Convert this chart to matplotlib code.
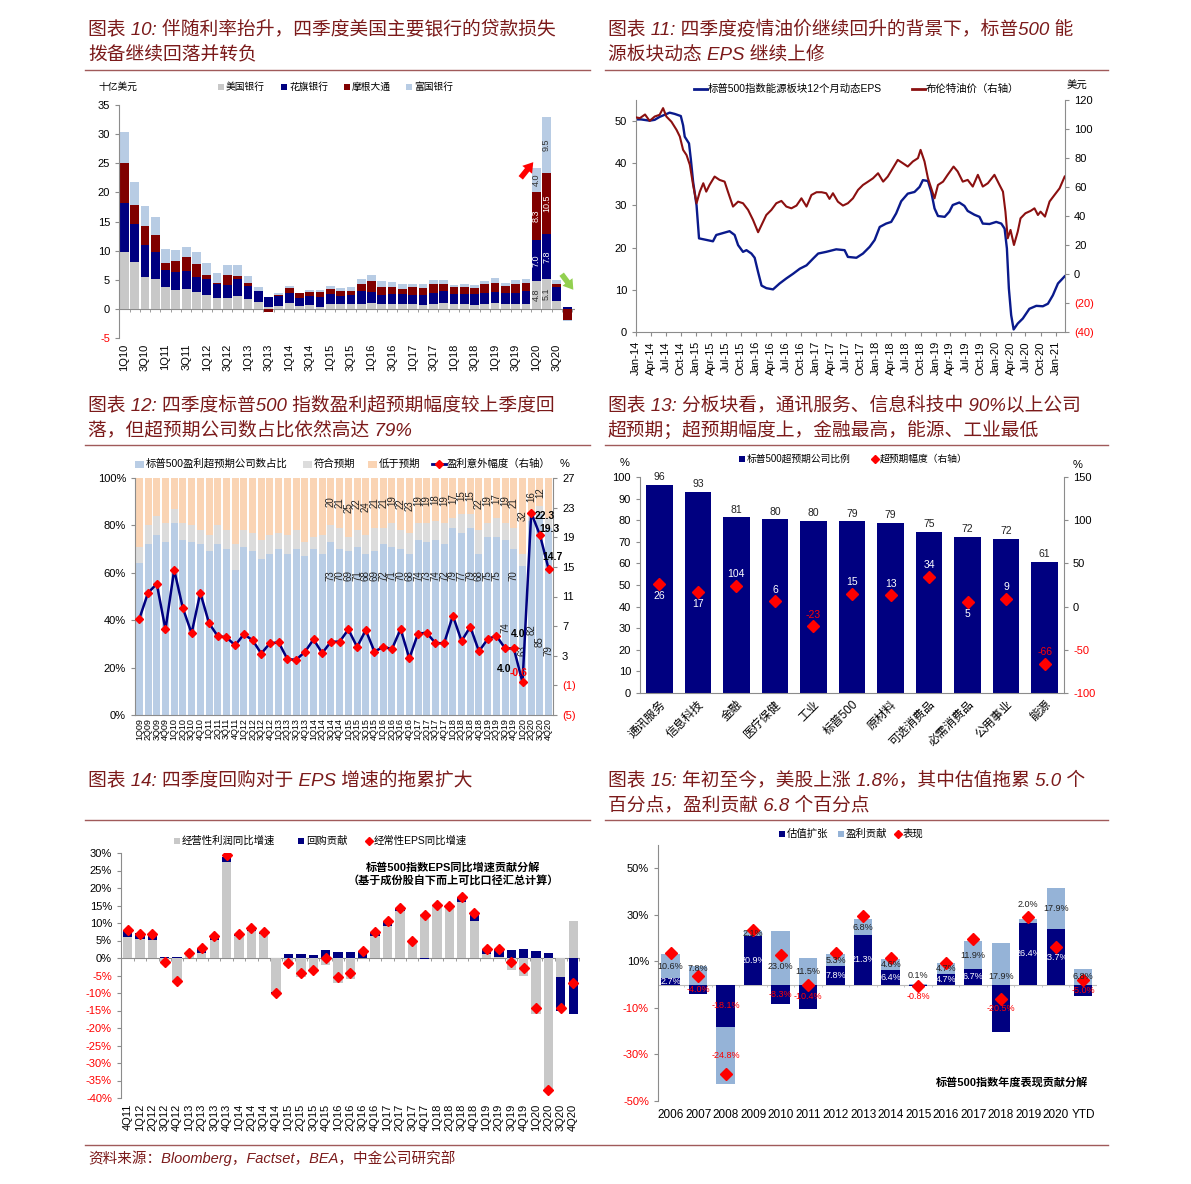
import matplotlib
matplotlib.use('Agg')
import matplotlib.pyplot as plt
import numpy as np
import pandas as pd
from matplotlib.patches import Rectangle, FancyArrowPatch
from matplotlib.lines import Line2D

plt.rcParams['font.family'] = ['Liberation Sans', 'Noto Sans CJK SC']
plt.rcParams['axes.unicode_minus'] = False
plt.rcParams['font.size'] = 8

# ------------------------- DATA -------------------------
# Chart 10: US bank loan loss provisions (USD bn)
q10 = [f"{q}Q{y:02d}" for y in range(10, 21) for q in range(1, 5)]
bofa = [9.8, 8.1, 5.4, 5.1, 3.8, 3.2, 3.4, 2.9, 2.4, 1.8, 1.8, 2.2, 1.7, 1.2, 0.3, 0.45, 1.0, 0.45, 0.7, 0.3,
        0.8, 0.8, 0.8, 0.8, 1.0, 0.9, 0.8, 0.8, 0.8, 0.7, 0.8, 1.0, 0.8, 0.8, 0.7, 0.85, 1.0, 0.85, 0.8, 0.9,
        4.8, 5.1, 1.4, 0.05]
citi = [8.3, 6.4, 5.6, 4.6, 2.9, 3.2, 3.1, 2.6, 2.7, 2.4, 2.3, 2.9, 2.2, 1.8, 1.8, 1.8, 1.7, 1.45, 1.5, 1.8,
        1.7, 1.4, 1.6, 2.3, 1.9, 1.4, 1.7, 1.7, 1.6, 1.6, 1.9, 2.0, 1.8, 1.8, 1.9, 1.85, 1.9, 1.95, 2.0, 2.1,
        7.0, 7.8, 2.3, 0.3]
jpm = [6.9, 3.3, 3.2, 3.0, 1.1, 1.8, 2.4, 2.2, 0.8, 0.3, 1.8, 0.6, 0.6, 0.05, -0.6, 0.2, 0.9, 0.8, 0.7, 0.8,
       0.9, 0.9, 0.7, 1.2, 1.8, 1.4, 1.3, 0.9, 1.4, 1.3, 1.5, 1.3, 1.2, 1.2, 1.0, 1.6, 1.6, 1.2, 1.5, 1.5,
       8.3, 10.5, 0.5, -1.9]
wfc = [5.4, 4.0, 3.5, 3.0, 2.4, 1.9, 1.8, 2.1, 2.0, 1.7, 1.6, 1.8, 1.2, 0.7, 0.0, 0.2, 0.3, 0.1, 0.4, 0.4,
       0.6, 0.4, 0.7, 0.9, 1.1, 1.0, 0.8, 0.8, 0.5, 0.6, 0.8, 0.7, 0.3, 0.5, 0.5, 0.5, 0.8, 0.5, 0.7, 0.7,
       4.0, 9.5, 0.8, -0.2]
banks10 = ['美国银行', '花旗银行', '摩根大通', '富国银行']

# Chart 11: energy sector 12m forward EPS and Brent
eps_dates = ['2014-01-01', '2014-02-01', '2014-03-25', '2014-04-25', '2014-05-25', '2014-06-25', '2014-07-25',
             '2014-08-25', '2014-10-01', '2014-10-15', '2014-10-25', '2014-11-20', '2014-12-01', '2014-12-15',
             '2015-01-05', '2015-01-20', '2015-04-15', '2015-05-05', '2015-07-25', '2015-08-25', '2015-09-15',
             '2015-10-15', '2015-11-05', '2015-12-05', '2015-12-25', '2016-01-15', '2016-02-05', '2016-03-05',
             '2016-04-15', '2016-05-25', '2016-07-05', '2016-08-15', '2016-09-25', '2016-11-05', '2016-12-15',
             '2017-01-15', '2017-03-05', '2017-05-05', '2017-06-25', '2017-07-15', '2017-09-05', '2017-10-15',
             '2017-11-25', '2017-12-25', '2018-01-25', '2018-03-05', '2018-04-05', '2018-05-05', '2018-06-05',
             '2018-07-15', '2018-08-25', '2018-09-25', '2018-10-15', '2018-11-15', '2018-12-05', '2018-12-25',
             '2019-01-15', '2019-02-25', '2019-03-25', '2019-04-15', '2019-05-25', '2019-06-25', '2019-07-15',
             '2019-08-25', '2019-09-25', '2019-10-15', '2019-11-25', '2020-01-05', '2020-02-05', '2020-02-25',
             '2020-03-10', '2020-03-22', '2020-04-05', '2020-04-20', '2020-05-15', '2020-06-15', '2020-07-25',
             '2020-09-05', '2020-10-15', '2020-11-15', '2020-12-15', '2021-01-15', '2021-02-25']
eps_vals = [50.4, 50.4, 50.1, 50.3, 51.0, 51.5, 52.0, 51.7, 51.2, 49.0, 46.3, 44.7, 41.0, 35.6,
            30.0, 22.2, 21.5, 23.0, 23.9, 23.0, 20.6,
            19.0, 19.4, 18.6, 17.6, 14.2, 11.0, 10.4,
            10.1, 11.5, 12.7, 13.8, 15.0, 15.8, 17.4,
            18.6, 19.0, 19.6, 19.4, 17.8, 17.6, 18.6,
            20.2, 21.8, 24.9, 25.7, 26.1, 28.1, 31.0,
            32.8, 33.2, 34.4, 36.0, 35.8, 33.2, 29.3,
            27.5, 27.3, 28.5, 30.1, 30.7, 29.9, 28.7,
            27.8, 27.3, 25.7, 25.6, 26.1, 25.7, 24.5,
            19.8, 10.3, 4.0, 0.6, 2.0, 3.2, 5.5,
            6.2, 6.1, 6.7, 8.7, 11.5, 13.2]
brent_dates = ['2014-01-01', '2014-01-25', '2014-02-25', '2014-03-25', '2014-04-25', '2014-05-25', '2014-06-15',
               '2014-07-05', '2014-08-05', '2014-09-05', '2014-09-25', '2014-10-15', '2014-11-05', '2014-11-25',
               '2014-12-15', '2015-01-05', '2015-01-25', '2015-02-15', '2015-03-05', '2015-03-25', '2015-04-25',
               '2015-05-25', '2015-06-25', '2015-07-15', '2015-08-15', '2015-09-15', '2015-10-15', '2015-11-15',
               '2015-12-15', '2016-01-15', '2016-02-05', '2016-03-05', '2016-04-05', '2016-05-05', '2016-06-05',
               '2016-07-05', '2016-08-05', '2016-09-05', '2016-10-05', '2016-11-05', '2016-12-05', '2017-01-05',
               '2017-02-05', '2017-03-05', '2017-03-25', '2017-04-15', '2017-05-15', '2017-06-15', '2017-07-15',
               '2017-08-15', '2017-09-15', '2017-10-15', '2017-11-15', '2017-12-15', '2018-01-15', '2018-02-15',
               '2018-03-15', '2018-04-15', '2018-05-15', '2018-06-15', '2018-07-15', '2018-08-15', '2018-09-15',
               '2018-10-01', '2018-10-25', '2018-11-15', '2018-12-05', '2018-12-25', '2019-01-15', '2019-02-15',
               '2019-03-15', '2019-04-20', '2019-05-15', '2019-06-15', '2019-07-15', '2019-08-15', '2019-09-15',
               '2019-10-15', '2019-11-15', '2019-12-25', '2020-01-25', '2020-02-15', '2020-03-01', '2020-03-15',
               '2020-04-01', '2020-04-22', '2020-05-15', '2020-06-01', '2020-07-01', '2020-08-01', '2020-08-25',
               '2020-09-15', '2020-10-01', '2020-10-28', '2020-11-25', '2020-12-25', '2021-01-25', '2021-02-25']
brent_vals = [108.0, 107.5, 110.0, 105.6, 108.6, 109.8, 114.4,
              108.6, 105.0, 99.4, 94.8, 85.6, 82.0, 75.3,
              61.4, 48.8, 56.8, 62.6, 56.8, 61.4, 67.2,
              64.9, 63.7, 56.8, 46.5, 49.9, 48.8, 44.2,
              37.3, 28.8, 33.8, 40.7, 44.2, 48.8, 50.4,
              46.5, 45.3, 47.2, 52.2, 46.5, 54.5, 56.4,
              56.4, 55.7, 51.8, 55.7, 49.9, 47.2, 48.8,
              52.2, 58.0, 61.4, 63.7, 66.0, 69.5, 63.7,
              67.2, 73.0, 78.7, 76.4, 74.1, 77.6, 79.9,
              85.6, 77.6, 66.0, 59.1, 52.2, 61.4, 63.7,
              68.4, 74.1, 70.7, 63.7, 64.9, 60.3, 68.4,
              60.3, 62.6, 68.4, 61.4, 56.8, 43.0, 24.6,
              30.4, 20.0, 29.2, 38.4, 41.9, 43.5, 45.3,
              40.7, 43.0, 39.6, 50.0, 54.5, 59.1, 67.2]

# Chart 12: earnings beat ratio and surprise
q12 = [f"{q}Q{y:02d}" for y in range(9, 21) for q in range(1, 5)]
beat = [64, 72, 76, 73, 81, 74, 73, 72, 69, 72, 70, 61, 71, 69, 66, 68, 70, 68, 70, 67, 70, 68,
        73, 70, 69, 71, 68, 69, 72, 71, 70, 68, 74, 73, 74, 72, 79, 77, 79, 68, 75, 75, 74, 70, 63, 82, 85, 79]
inline = [7, 8, 8, 8, 6, 7, 7, 6, 7, 8, 8, 11, 7, 8, 8, 8, 7, 8, 8, 6, 5, 8,
          7, 9, 6, 7, 8, 10, 7, 10, 8, 9, 7, 8, 8, 9, 4, 8, 6, 10, 6, 8, 7, 9, 5, 2, 3, 4]
miss = [29, 20, 16, 19, 13, 19, 20, 22, 24, 20, 22, 28, 22, 23, 26, 24, 23, 24, 22, 27, 25, 24,
        20, 21, 25, 22, 24, 21, 21, 19, 22, 23, 19, 19, 18, 19, 17, 15, 15, 22, 19, 17, 19, 21, 32, 16, 12, 17]
surprise = [8.0, 11.5, 12.7, 6.55, 14.6, 9.4, 6.05, 11.5, 7.4, 5.65, 5.5, 4.4, 5.9, 5.1, 3.3, 4.7, 4.8, 2.55,
            2.45, 3.5, 5.2, 3.35, 4.9, 4.9, 6.55, 4.2, 6.45, 3.55, 4.2, 3.9, 6.6, 2.65, 6.0, 6.1, 4.7, 4.7,
            8.4, 5.0, 6.9, 3.6, 5.25, 5.7, 4.0, 4.0, -0.6, 22.3, 19.3, 14.7]

# Chart 13: sector beat ratio and surprise
sectors = ['通讯服务', '信息科技', '金融', '医疗保健', '工业', '标普500', '原材料', '可选消费品', '必需消费品',
           '公用事业', '能源']
sector_beat = [96.3, 93.1, 81.3, 80.4, 79.8, 79.4, 78.7, 74.7, 72.4, 71.5, 60.8]
sector_surprise = [26, 17, 24, 6, -23, 15, 13, 34, 5, 9, -66]
sector_surprise_labels = ['26', '17', '104', '6', '-23', '15', '13', '34', '5', '9', '-66']

# Chart 14: EPS growth decomposition
q14 = ['4Q11'] + [f"{q}Q{y}" for y in range(12, 21) for q in range(1, 5)]
op_growth = [6.0, 5.4, 5.2, -1.3, -6.7, 0.8, 1.4, 5.2, 27.3, 6.4, 7.8, 7.0, -9.7, -2.4, -5.4, -4.0, -1.9,
             -7.0, -5.9, -0.1, 6.2, 9.2, 13.5, 4.8, 12.6, 14.8, 14.5, 16.0, 10.5, 1.2, 0.2, -3.3, -5.2,
             -15.9, -38.4, -5.5, 10.7]
buyback = [2.0, 1.8, 1.7, 0.3, 0.2, 0.5, 1.3, 1.0, 1.7, 0.5, 0.8, 0.4, -0.3, 1.1, 1.2, 0.8, 2.2, 1.7, 1.7,
           2.1, 1.1, 1.3, 0.5, 0.2, -0.2, 0.4, 0.5, 1.3, 2.4, 1.5, 2.5, 2.4, 2.6, 1.9, 1.5, -9.7, -16.0]
eps_growth = [8.0, 7.0, 6.8, -1.1, -6.5, 1.3, 2.8, 6.2, 29.4, 6.8, 8.6, 7.4, -10.0, -1.4, -4.4, -3.4, 0.0,
              -5.5, -4.3, 1.9, 7.3, 10.5, 14.3, 5.0, 12.4, 15.2, 15.0, 17.5, 13.0, 2.7, 2.7, -1.1, -2.9,
              -14.3, -37.6, -14.4, -7.2]

# Chart 15: S&P 500 annual performance decomposition
years15 = ['2006', '2007', '2008', '2009', '2010', '2011', '2012', '2013', '2014', '2015', '2016', '2017',
           '2018', '2019', '2020', 'YTD']
valuation = [2.7, -4.0, -18.1, 20.9, -8.3, -10.4, 7.8, 21.3, 6.4, -0.8, 4.7, 6.7, -20.5, 26.4, 23.7, -5.0]
earnings = [10.6, 7.8, -24.8, 2.1, 23.0, 11.5, 5.3, 6.8, 4.6, 0.1, 4.7, 11.9, 17.9, 2.0, 17.9, 6.8]
performance = [13.6, 3.5, -38.5, 23.5, 12.8, 0.0, 13.4, 29.6, 11.4, -0.7, 9.5, 19.4, -6.2, 28.9, 16.3, 1.8]

titles = {
    '10': ['图表 10: 伴随利率抬升，四季度美国主要银行的贷款损失', '拨备继续回落并转负'],
    '11': ['图表 11: 四季度疫情油价继续回升的背景下，标普500 能', '源板块动态 EPS 继续上修'],
    '12': ['图表 12: 四季度标普500 指数盈利超预期幅度较上季度回', '落，但超预期公司数占比依然高达 79%'],
    '13': ['图表 13: 分板块看，通讯服务、信息科技中 90%以上公司', '超预期；超预期幅度上，金融最高，能源、工业最低'],
    '14': ['图表 14: 四季度回购对于 EPS 增速的拖累扩大'],
    '15': ['图表 15: 年初至今，美股上涨 1.8%，其中估值拖累 5.0 个', '百分点，盈利贡献 6.8 个百分点'],
}
source = '资料来源：Bloomberg，Factset，BEA，中金公司研究部'

# ------------------------- FIGURE -------------------------
W, H = 1191, 1184
fig = plt.figure(figsize=(W / 100, H / 100), dpi=100)
fig.patch.set_facecolor('white')

TITLE_C = '#7B1A1A'
RULE_C = '#A05A5A'
NAVY = '#000080'
GRID_C = '#8C8C8C'


def axes_px(x0, y0, x1, y1):
    return fig.add_axes([x0 / W, 1 - y1 / H, (x1 - x0) / W, (y1 - y0) / H])


def ftext(x, y, s, **kw):
    return fig.text(x / W, 1 - y / H, s, **kw)


def hrule(x0, x1, y, color=RULE_C, lw=1.0):
    fig.add_artist(Line2D([x0 / W, x1 / W], [1 - y / H, 1 - y / H], transform=fig.transFigure,
                          color=color, lw=lw))


def leg_square(x, y, color, label, fs=7, s=7, w=None):
    w = s if w is None else w
    fig.add_artist(Rectangle((x / W, 1 - (y + s / 2) / H), w / W, s / H, transform=fig.transFigure,
                             facecolor=color, edgecolor='none'))
    ftext(x + w + 2, y, label, fontsize=fs, va='center', ha='left')


def leg_diamond(x, y, label, fs=7, ms=4.5):
    fig.add_artist(Line2D([x / W], [1 - y / H], transform=fig.transFigure, marker='D', ms=ms,
                          color='red', mec='red', ls='none'))
    ftext(x + 5, y, label, fontsize=fs, va='center', ha='left')


def leg_line(x0, x1, y, color, label, fs=7.5, marker=False):
    fig.add_artist(Line2D([x0 / W, x1 / W], [1 - y / H, 1 - y / H], transform=fig.transFigure,
                          color=color, lw=2))
    if marker:
        xm = (x0 + x1) / 2
        fig.add_artist(Line2D([xm / W], [1 - y / H], transform=fig.transFigure, marker='D', ms=4.5,
                              color='red', mec='red', ls='none'))
    ftext(x1 + 1, y, label, fontsize=fs, va='center', ha='left')


def title(key, x, y):
    for i, line in enumerate(titles[key]):
        ftext(x, y + i * 25, line, fontsize=13.5, color=TITLE_C, va='center', ha='left',
              family=['Liberation Sans', 'Noto Sans CJK SC'], style='italic')


def base_style(ax, left=True, right=False, bottom=False):
    for s in ['top', 'right', 'left', 'bottom']:
        ax.spines[s].set_visible(False)
    ax.spines['left'].set_visible(left)
    ax.spines['right'].set_visible(right)
    ax.spines['bottom'].set_visible(bottom)
    for s in ['left', 'right', 'bottom']:
        ax.spines[s].set_color(GRID_C)
        ax.spines[s].set_linewidth(0.8)
    ax.tick_params(axis='both', colors=GRID_C, labelcolor='black', length=3, width=0.8, labelsize=8)
    ax.set_facecolor('none')


def color_neg(ax, ticks, which='y', color='red'):
    labs = ax.get_yticklabels() if which == 'y' else ax.get_xticklabels()
    for t, lab in zip(ticks, labs):
        if t < 0:
            lab.set_color(color)


def stacked(ax, x, series, width):
    pos = np.zeros(len(x))
    neg = np.zeros(len(x))
    bottoms = []
    for vals, col in series:
        v = np.array(vals, dtype=float)
        b = np.where(v >= 0, pos, neg)
        ax.bar(x, v, width, bottom=b, color=col, edgecolor='none', zorder=2)
        bottoms.append(b)
        pos = pos + np.where(v >= 0, v, 0)
        neg = neg + np.where(v < 0, v, 0)
    return bottoms


# ------------------------- titles & rules -------------------------
title('10', 88, 30)
title('11', 608, 30)
title('12', 88, 405)
title('13', 608, 405)
title('14', 88, 780)
title('15', 608, 780)
hrule(85, 590, 70)
hrule(605, 1108, 70)
hrule(85, 590, 445)
hrule(605, 1108, 445)
hrule(85, 590, 820)
hrule(605, 1108, 820)
hrule(85, 1108, 1145)
ftext(88, 1158, source, fontsize=10.5, color=TITLE_C, va='center', ha='left', style='italic',
      family=['Liberation Sans', 'Noto Sans CJK SC'])

# ------------------------- Chart 10 -------------------------
ax = axes_px(119, 105, 575, 338)
x10 = np.arange(len(q10))
cols10 = ['#C8C8C8', NAVY, '#800000', '#B8CCE4']
series10 = list(zip([bofa, citi, jpm, wfc], cols10))
b10 = stacked(ax, x10, series10, 0.85)
base_style(ax, left=True)
ax.set_xlim(-0.52, 43.76)
ax.set_ylim(-5, 35)
yt = list(range(-5, 36, 5))
ax.set_yticks(yt)
ax.set_yticklabels([str(v) for v in yt])
color_neg(ax, yt)
ax.axhline(0, color=GRID_C, lw=0.8, zorder=1)
ax.vlines(np.arange(-0.5, len(q10)), 0, -0.5, color=GRID_C, lw=0.6, zorder=1)
ax.set_xticks(x10[::2])
ax.set_xticklabels(q10[::2], rotation=90, fontsize=8)
ax.tick_params(axis='x', length=0, pad=4)
# segment labels for 1Q20 / 2Q20
text_cols = ['#333333', 'white', 'white', '#333333']
for i in (40, 41):
    for k, (vals, col) in enumerate(series10):
        v = vals[i]
        ax.text(i, b10[k][i] + v / 2, f"{v:.1f}", rotation=90, ha='center', va='center',
                fontsize=6.5, color=text_cols[k], zorder=3)
ftext(118, 87, '十亿美元', fontsize=7, ha='center', va='center')
for xx, col, lab in zip([218, 281, 344, 406], cols10, banks10):
    leg_square(xx, 87, col, lab, fs=7, s=6)
fig.add_artist(FancyArrowPatch((519 / W, 1 - 180 / H), (535 / W, 1 - 160 / H), transform=fig.transFigure,
                               arrowstyle='simple,head_width=0.9,head_length=0.7,tail_width=0.4',
                               mutation_scale=10, color='#FF0000', lw=0))
fig.add_artist(FancyArrowPatch((560 / W, 1 - 272 / H), (575 / W, 1 - 292 / H), transform=fig.transFigure,
                               arrowstyle='simple,head_width=0.9,head_length=0.7,tail_width=0.4',
                               mutation_scale=10, color='#92D050', lw=0))

# ------------------------- Chart 11 -------------------------
ax = axes_px(636, 100, 1065, 332)
ed = pd.to_datetime(eps_dates)
bd = pd.to_datetime(brent_dates)
ax.plot(ed, eps_vals, color='#0A1A8C', lw=1.7, zorder=2)
base_style(ax, left=True, right=False, bottom=True)
ax.set_ylim(0, 55)
ax.set_yticks(range(0, 51, 10))
ax.set_xlim(pd.Timestamp('2014-01-01'), pd.Timestamp('2021-02-27'))
xt = pd.date_range('2014-01-01', '2021-01-01', freq='3MS')
ax.set_xticks(xt)
ax.set_xticklabels([d.strftime('%b-%y') for d in xt], rotation=90, fontsize=8)
ax2 = ax.twinx()
ax2.plot(bd, brent_vals, color='#8B1010', lw=1.5, zorder=3)
base_style(ax2, left=False, right=True)
ax2.set_ylim(-40, 120)
rt = list(range(-40, 121, 20))
ax2.set_yticks(rt)
ax2.set_yticklabels([f"({-v})" if v < 0 else str(v) for v in rt])
color_neg(ax2, rt)
ax2.set_xlim(pd.Timestamp('2014-01-01'), pd.Timestamp('2021-02-27'))
leg_line(694, 707, 89, '#0A1A8C', '标普500指数能源板块12个月动态EPS', fs=7.5)
leg_line(912, 925, 89, '#8B1010', '布伦特油价（右轴）', fs=7.5)
ftext(1077, 86, '美元', fontsize=7.5, ha='center', va='center')

# ------------------------- Chart 12 -------------------------
ax = axes_px(135, 478, 553, 715)
x12 = np.arange(len(q12))
cols12 = ['#B9CDE5', '#DCDCDC', '#FAD4B4']
b12 = stacked(ax, x12, list(zip([beat, inline, miss], cols12)), 0.8)
base_style(ax, left=True, bottom=True)
ax.set_xlim(-0.5, len(q12) - 0.5)
ax.set_ylim(0, 100)
ax.set_yticks(range(0, 101, 20))
ax.set_yticklabels([f"{v}%" for v in range(0, 101, 20)])
ax.set_xticks(x12)
ax.set_xticklabels(q12, rotation=90, fontsize=6.5)
ax.tick_params(axis='x', length=0, pad=2)
beat_label_y = {42: 37, 44: 27, 45: 36, 46: 31, 47: 27}
for i in range(22, len(q12)):
    ax.text(i, beat_label_y.get(i, 59), str(beat[i]), rotation=90, ha='center', va='center',
            fontsize=7, color='#222222', zorder=3)
for i in range(22, 47):
    ax.text(i, 100 - miss[i] / 2, str(miss[i]), rotation=90, ha='center',
            va='center', fontsize=7, color='#222222', zorder=3)
ax2 = ax.twinx()
ax2.plot(x12, surprise, color=NAVY, lw=1.8, marker='D', ms=4.5, mfc='red', mec='red', zorder=4)
base_style(ax2, left=False, right=True)
ax2.set_ylim(-5, 27)
rt12 = [27, 23, 19, 15, 11, 7, 3, -1, -5]
ax2.set_yticks(rt12)
ax2.set_yticklabels([f"({-v})" if v < 0 else str(v) for v in rt12])
color_neg(ax2, rt12)
ax2.set_xlim(-0.5, len(q12) - 0.5)
line_labels = [(42, (-1, -15), 'black'), (43, (3, 10), 'black'), (44, (-3, 7), 'red'),
               (45, (10, -2), 'black'), (46, (7, 4), 'black'), (47, (3, 9), 'black')]
for i, off, c in line_labels:
    ax2.annotate(f"{surprise[i]:.1f}", (i, surprise[i]), xytext=off, textcoords='offset points',
                 ha='center', va='center', fontsize=7.5, fontweight='bold', color=c, zorder=5)
leg_square(135, 464, '#B9CDE5', '标普500盈利超预期公司数占比', fs=7.5, s=7, w=9)
leg_square(303, 464, '#DCDCDC', '符合预期', fs=7.5, s=7, w=9)
leg_square(368, 464, '#FAD4B4', '低于预期', fs=7.5, s=7, w=9)
leg_line(432, 446, 464, NAVY, '盈利意外幅度（右轴）', fs=7.5, marker=True)
ftext(565, 464, '%', fontsize=8, ha='center', va='center')

# ------------------------- Chart 13 -------------------------
ax = axes_px(640, 477, 1064, 693)
x13 = np.arange(len(sectors))
ax.bar(x13, sector_beat, 0.69, color=NAVY, edgecolor='none', zorder=2)
base_style(ax, left=True, bottom=True)
ax.set_xlim(-0.5, len(sectors) - 0.5)
ax.set_ylim(0, 100)
ax.set_yticks(range(0, 101, 10))
ax.set_xticks(x13)
ax.set_xticklabels(sectors, rotation=45, ha='right', rotation_mode='anchor', fontsize=8.5)
ax.tick_params(axis='x', length=0, pad=4)
for i, v in enumerate(sector_beat):
    ax.text(i, v + 1.2, f"{v:.0f}", ha='center', va='bottom', fontsize=7.5, color='#222222')
ax2 = ax.twinx()
ax2.plot(x13, sector_surprise, ls='none', marker='D', ms=6, color='red', mec='red', zorder=4)
base_style(ax2, left=False, right=True)
ax2.set_ylim(-100, 150)
rt13 = list(range(-100, 151, 50))
ax2.set_yticks(rt13)
color_neg(ax2, rt13)
ax2.set_xlim(-0.5, len(sectors) - 0.5)
below = {0, 1, 8}
for i, (v, lab) in enumerate(zip(sector_surprise, sector_surprise_labels)):
    off = -8.5 if i in below else 8.5
    ax2.annotate(lab, (i, v), xytext=(0, off), textcoords='offset points', ha='center', va='center',
                 fontsize=7.5, color='white' if v >= 0 else 'red', zorder=5)
leg_square(739, 459, NAVY, '标普500超预期公司比例', fs=7, s=6)
leg_diamond(875, 459, '超预期幅度（右轴）', fs=7)
ftext(625, 463, '%', fontsize=8, ha='center', va='center')
ftext(1078, 465, '%', fontsize=8, ha='center', va='center')

# ------------------------- Chart 14 -------------------------
ax = axes_px(121, 853, 580, 1098)
x14 = np.arange(len(q14))
stacked(ax, x14, [(op_growth, '#C8C8C8'), (buyback, NAVY)], 0.75)
ax.plot(x14, eps_growth, ls='none', marker='D', ms=5.5, color='red', mec='red', zorder=4)
base_style(ax, left=True)
ax.set_xlim(-0.53, len(q14) - 0.45)
ax.set_ylim(-40, 30)
yt14 = list(range(-40, 31, 5))
ax.set_yticks(yt14)
ax.set_yticklabels([f"{v}%" for v in yt14])
color_neg(ax, yt14)
ax.axhline(0, color=GRID_C, lw=0.8, zorder=1)
ax.vlines(np.arange(-0.5, len(q14)), 0, -0.8, color=GRID_C, lw=0.6, zorder=1)
ax.set_xticks(x14)
ax.set_xticklabels(q14, rotation=90, fontsize=8)
ax.tick_params(axis='x', length=0, pad=4)
ftext(453, 867, '标普500指数EPS同比增速贡献分解', fontsize=8, fontweight='bold', ha='center', va='center')
ftext(453, 880, '（基于成份股自下而上可比口径汇总计算）', fontsize=8, fontweight='bold', ha='center',
      va='center')
leg_square(174, 841, '#C8C8C8', '经营性利润同比增速', fs=7.5, s=6)
leg_square(298, 841, NAVY, '回购贡献', fs=7.5, s=6)
leg_diamond(369, 841, '经常性EPS同比增速', fs=7.5)

# ------------------------- Chart 15 -------------------------
ax = axes_px(658, 845, 1097, 1101)
x15 = np.arange(len(years15))
b15 = stacked(ax, x15, [(valuation, NAVY), (earnings, '#95B3D7')], 0.67)
ax.plot(x15, performance, ls='none', marker='D', ms=6.5, color='red', mec='red', zorder=4)
base_style(ax, left=True)
ax.set_xlim(-0.46, len(years15) - 0.5)
ax.set_ylim(-50, 60)
yt15 = [-50, -30, -10, 10, 30, 50]
ax.set_yticks(yt15)
ax.set_yticklabels([f"{v}%" for v in yt15])
color_neg(ax, yt15)
ax.axhline(0, color='#BBBBBB', lw=0.8, zorder=1)
ax.vlines(np.arange(-0.5, len(years15)), 0, -1.2, color='#BBBBBB', lw=0.6, zorder=1)
ax.set_xticks(x15)
ax.set_xticklabels(years15, fontsize=8.5)
ax.tick_params(axis='x', length=0, pad=6)
val_label_y = {9: -4.9}
earn_label_y = {1: 7.0, 4: 8.0, 9: 3.9, 12: 3.4, 13: 34.5}
for i in range(len(years15)):
    v = valuation[i]
    yv = val_label_y.get(i, b15[0][i] + v / 2)
    ax.text(i, yv, f"{v:.1f}%", ha='center', va='center', fontsize=6.5,
            color='white' if v >= 0 else 'red', zorder=5)
    e = earnings[i]
    ye = earn_label_y.get(i, b15[1][i] + e / 2)
    ax.text(i, ye, f"{e:.1f}%", ha='center', va='center', fontsize=6.5,
            color='#222222' if e >= 0 else 'red', zorder=5)
ftext(1012, 1082, '标普500指数年度表现贡献分解', fontsize=8, fontweight='bold', ha='center', va='center')
leg_square(779, 834, NAVY, '估值扩张', fs=7.5, s=6)
leg_square(838, 834, '#95B3D7', '盈利贡献', fs=7.5, s=6)
leg_diamond(898, 834, '表现', fs=7.5)

fig.savefig('out.png', dpi=100, facecolor='white')
